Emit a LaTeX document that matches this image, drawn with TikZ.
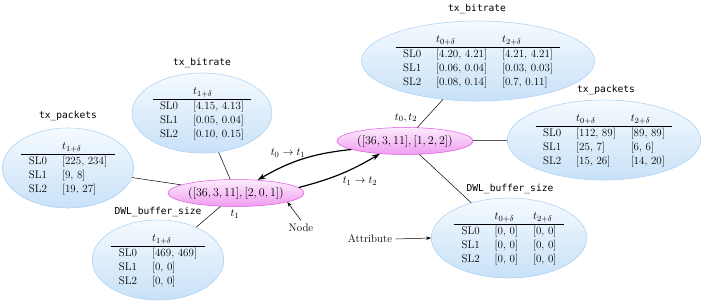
\documentclass[tikz,border=0pt]{standalone}
\usepackage{amsmath,amssymb}
\usepackage{fontspec}
\setmonofont{DejaVu Sans Mono}
\usepackage{tikz}
\usetikzlibrary{shapes.geometric,arrows.meta}
\definecolor{attrtop}{HTML}{F5FAFE}
\definecolor{attrbot}{HTML}{C8E1F8}
\definecolor{attrline}{HTML}{A6CEF4}
\definecolor{statetop}{HTML}{FDEDFD}
\definecolor{statebot}{HTML}{F09CF0}
\definecolor{stateline}{HTML}{DD55DD}
\setlength{\tabcolsep}{7.5pt}
\setlength{\arrayrulewidth}{0.6pt}

\begin{document}
\begin{tikzpicture}[x=1pt,y=1pt,line width=0.5pt,
  font=\fontsize{11}{14}\selectfont,
  attrbox/.style={ellipse,draw=attrline,top color=attrtop,bottom color=attrbot,inner sep=0pt},
  statebox/.style={ellipse,draw=stateline,top color=statetop,bottom color=statebot,
    inner sep=0pt,minimum width=136pt,minimum height=27pt,font=\fontsize{12}{14}\selectfont},
  attrname/.style={font=\ttfamily\fontsize{9.6}{11}\selectfont},
  trans/.style={line width=1.2pt,-{Stealth[length=8pt,width=5.5pt]}},
  pointer/.style={-{Stealth[length=5pt,width=3.5pt]}}]
  \useasboundingbox (0,0) rectangle (706,303);
  % state nodes
  \node[statebox] (n1) at (236,110) {$([36,3,11],[2,0,1])$};
  \node[statebox] (n2) at (405,162) {$([36,3,11],[1,2,2])$};
  % attributes of the first node
  \node[attrbox] (pktL) at (68,135) {\begin{tabular}{ll}
    & $t_{1+\delta}$\\ \hline
    SL0 & [225, 234]\\
    SL1 & [9, 8]\\
    SL2 & [19, 27]
  \end{tabular}};
  \node[attrbox] (brL) at (202,190) {\begin{tabular}{ll}
    & $t_{1+\delta}$\\ \hline
    SL0 & [4.15, 4.13]\\
    SL1 & [0.05, 0.04]\\
    SL2 & [0.10, 0.15]
  \end{tabular}};
  \node[attrbox] (dwlL) at (158,43) {\begin{tabular}{ll}
    & $t_{1+\delta}$\\ \hline
    SL0 & [469, 469]\\
    SL1 & [0, 0]\\
    SL2 & [0, 0]
  \end{tabular}};
  % attributes of the second node
  \node[attrbox] (brR) at (478,242) {\begin{tabular}{lll}
    & $t_{0+\delta}$ & $t_{2+\delta}$\\ \hline
    SL0 & [4.20, 4.21] & [4.21, 4.21]\\
    SL1 & [0.06, 0.04] & [0.03, 0.03]\\
    SL2 & [0.08, 0.14] & [0.7, 0.11]
  \end{tabular}};
  \node[attrbox] (pktR) at (604,163) {\begin{tabular}{lll}
    & $t_{0+\delta}$ & $t_{2+\delta}$\\ \hline
    SL0 & [112, 89] & [89, 89]\\
    SL1 & [25, 7] & [6, 6]\\
    SL2 & [15, 26] & [14, 20]
  \end{tabular}};
  \node[attrbox] (dwlR) at (509,65) {\begin{tabular}{lll}
    & $t_{0+\delta}$ & $t_{2+\delta}$\\ \hline
    SL0 & [0, 0] & [0, 0]\\
    SL1 & [0, 0] & [0, 0]\\
    SL2 & [0, 0] & [0, 0]
  \end{tabular}};
  % attribute names
  \node[attrname] (lPktL) at (68,187) {tx\_packets};
  \node[attrname] (lBrL) at (202,240) {tx\_bitrate};
  \node[attrname] (lDwlL) at (158,91) {DWL\_buffer\_size};
  \node[attrname] (lBrR) at (477,294) {tx\_bitrate};
  \node[attrname] (lPktR) at (606,213) {tx\_packets};
  \node[attrname] (lDwlR) at (510,114) {DWL\_buffer\_size};
  % links
  \draw (pktL) -- (n1);
  \draw (brL) -- (n1);
  \draw (dwlL) -- (n1);
  \draw (n2) -- (brR);
  \draw (n2) -- (pktR);
  \draw (n2) -- (dwlR);
  % transitions
  \draw[trans] (n2.189) to[bend right=12] (n1.31);
  \draw[trans] (n1.5) to[bend right=8] (n2.207);
  \node (t01) at (288,150) {$t_0\rightarrow t_1$};
  \node (t12) at (360,122) {$t_1\rightarrow t_2$};
  \node (t02) at (406,185) {$t_0, t_2$};
  \node (t1) at (235,89) {$t_1$};
  % legend
  \node (nodelbl) at (301,75) {Node};
  \node (attrlbl) at (370,64) {Attribute};
  \draw[pointer] (nodelbl.north) -- (n1.-10);
  \draw[pointer] (attrlbl.east) -- (dwlR.west);
\end{tikzpicture}
\end{document}
